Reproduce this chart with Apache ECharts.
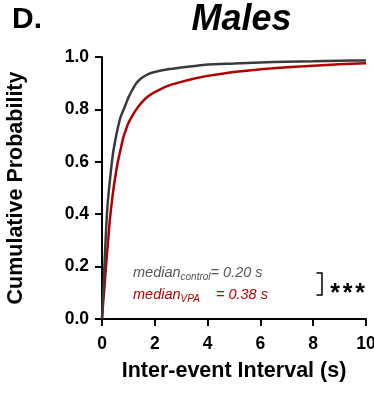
<!DOCTYPE html>
<html>
<head>
<meta charset="utf-8">
<script src="https://cdn.jsdelivr.net/npm/echarts@6/dist/echarts.min.js"></script>
<style>html,body{margin:0;padding:0;background:#fff;}#c{width:374px;height:396px;}</style>
</head>
<body>
<div id="c"></div>
<script>
const intervals = [0, 0.05, 0.1, 0.15, 0.2, 0.25, 0.3, 0.4, 0.5, 0.6, 0.7, 0.8, 0.9, 1.0, 1.15, 1.3, 1.5, 1.75, 2.0, 2.5, 3.0, 3.5, 4, 5, 6, 7, 8, 9, 10];
const controlCum = [0, 0.11, 0.22, 0.33, 0.42, 0.48, 0.53, 0.62, 0.68, 0.73, 0.77, 0.795, 0.82, 0.845, 0.875, 0.9, 0.92, 0.935, 0.943, 0.953, 0.96, 0.966, 0.971, 0.975, 0.979, 0.982, 0.984, 0.986, 0.987];
const vpaCum = [0, 0.07, 0.13, 0.2, 0.26, 0.32, 0.38, 0.47, 0.54, 0.6, 0.645, 0.69, 0.72, 0.748, 0.775, 0.8, 0.826, 0.85, 0.866, 0.89, 0.905, 0.918, 0.928, 0.943, 0.953, 0.961, 0.967, 0.972, 0.976];
const xTicks = [0, 2, 4, 6, 8, 10];
const titleText = 'Males';
const panelLabel = 'D.';
const medianControl = '0.20 s';
const medianVPA = '0.38 s';
const signif = ['*', '*', '*'];

const FONT = '"Liberation Sans", Arial, sans-serif';
const BLACK = '#3a3a3a';
const RED = '#b00000';

const chart = echarts.init(document.getElementById('c'), null, {renderer: 'canvas'});
const axisCommon = {
  axisLine: {show: true, lineStyle: {color: '#000', width: 2}},
  axisTick: {show: true, length: 7, lineStyle: {color: '#000', width: 2}},
  splitLine: {show: false},
  axisLabel: {color: '#000', fontFamily: FONT, fontWeight: 'bold', fontSize: 17.5},
  nameTextStyle: {color: '#000', fontFamily: FONT, fontWeight: 'bold', fontSize: 21.5}
};
chart.setOption({
  animation: false,
  grid: {left: 102, right: 8, top: 57, bottom: 77, containLabel: false, outerBoundsMode: 'none'},
  xAxis: Object.assign({}, axisCommon, {
    type: 'value', min: 0, max: 10, interval: 2,
    name: 'Inter-event Interval (s)', nameLocation: 'middle', nameGap: 41,
    axisLabel: Object.assign({}, axisCommon.axisLabel, {margin: 16, formatter: v => xTicks.includes(v) ? String(v) : ''})
  }),
  yAxis: Object.assign({}, axisCommon, {
    type: 'value', min: 0, max: 1, interval: 0.2,
    name: 'Cumulative Probability', nameLocation: 'middle', nameGap: 75,
    axisLabel: Object.assign({}, axisCommon.axisLabel, {margin: 13, formatter: v => v.toFixed(1)})
  }),
  series: [
    {type: 'line', name: 'control', data: intervals.map((x, i) => [x, controlCum[i]]),
     showSymbol: false, smooth: 0.3, lineStyle: {color: BLACK, width: 2.5}, z: 3},
    {type: 'line', name: 'VPA', data: intervals.map((x, i) => [x, vpaCum[i]]),
     showSymbol: false, smooth: 0.3, lineStyle: {color: RED, width: 2.5}, z: 2}
  ],
  graphic: [
    {type: 'text', left: 12, top: 5, style: {text: panelLabel, font: 'bold 30px ' + FONT, fill: '#000'}},
    {type: 'text', x: 241.5, y: 20, style: {text: titleText, font: 'italic bold 36px ' + FONT, fill: '#000', textAlign: 'center', textVerticalAlign: 'middle'}},
    {type: 'text', x: 133, y: 282, style: {
      text: '{m|median}{s|control}{m|= ' + medianControl + '}',
      textVerticalAlign: 'bottom',
      rich: {m: {font: 'italic 14.5px ' + FONT, fill: '#555', color: '#555'}, s: {font: 'italic 10px ' + FONT, fill: '#555', color: '#555', padding: [8, 0, 0, 0]}}
    }},
    {type: 'text', x: 133, y: 304, style: {
      text: '{m|median}{s|VPA}{m|    = ' + medianVPA + '}',
      textVerticalAlign: 'bottom',
      rich: {m: {font: 'italic 14.5px ' + FONT, fill: RED, color: RED}, s: {font: 'italic 10px ' + FONT, fill: RED, color: RED, padding: [8, 0, 0, 0]}}
    }},
    {type: 'polyline', shape: {points: [[316.5, 273], [322, 273], [322, 295], [316.5, 295]]}, style: {stroke: '#000', lineWidth: 1.5, fill: null}},
    {type: 'text', x: 335, y: 294, style: {text: signif[0], font: 'bold 25px ' + FONT, fill: '#000', textAlign: 'center', textVerticalAlign: 'middle'}},
    {type: 'text', x: 347.5, y: 294, style: {text: signif[1], font: 'bold 25px ' + FONT, fill: '#000', textAlign: 'center', textVerticalAlign: 'middle'}},
    {type: 'text', x: 360, y: 294, style: {text: signif[2], font: 'bold 25px ' + FONT, fill: '#000', textAlign: 'center', textVerticalAlign: 'middle'}}
  ]
});
</script>
</body>
</html>
